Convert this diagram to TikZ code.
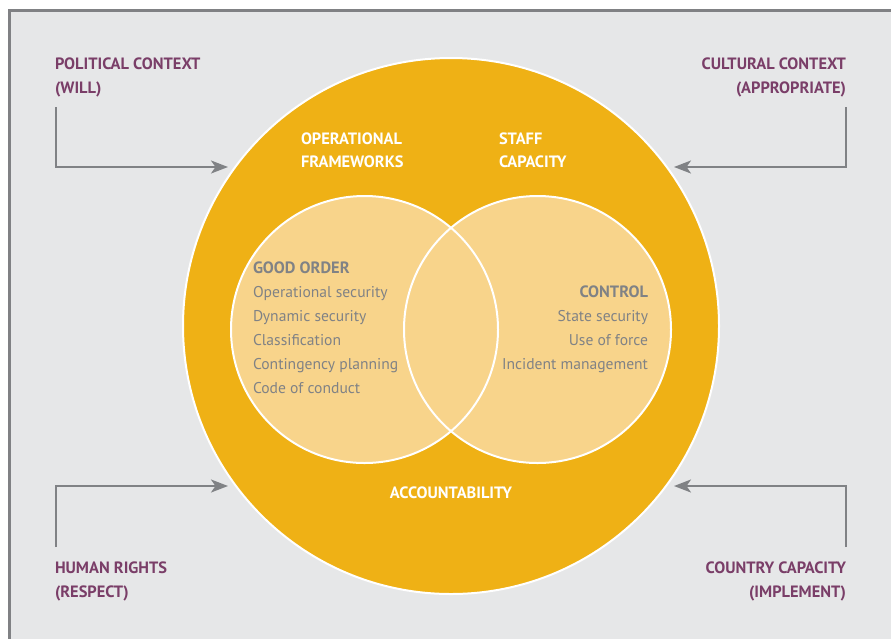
\documentclass[tikz,border=0pt]{standalone}
\usepackage{fontspec}
\setmainfont{PT Sans}
\usetikzlibrary{arrows.meta}
\definecolor{panel}{HTML}{E6E7E8}
\definecolor{frame}{HTML}{808184}
\definecolor{ochre}{HTML}{EFB115}
\definecolor{sand}{HTML}{F8D48B}
\definecolor{plum}{HTML}{7A3E68}
\definecolor{slate}{HTML}{808285}
\begin{document}
\begin{tikzpicture}[x=1pt,y=-1pt,
  every node/.style={inner sep=0pt, outer sep=0pt},
  capsfont/.style={font=\fontsize{16.4}{18}\selectfont\bfseries},
  context/.style={capsfont, text=plum},
  ringlabel/.style={capsfont, text=white},
  headtext/.style={capsfont, text=slate},
  itemtext/.style={text=slate, font=\fontsize{15.6}{18}\selectfont},
  flow/.style={draw=slate, line width=2.3pt,
    -{Stealth[length=17pt, width=13pt, inset=4.5pt]}},
  disc/.style={circle, fill=#1},
]
\useasboundingbox (0,0) rectangle (891,638);
\clip (0,0) rectangle (891,638);
\fill[white] (0,0) rectangle (891,638);
\filldraw[fill=panel, draw=frame, line width=3pt] (9,10) rectangle (905,655);

% outer ring and the two overlapping discs
\node[disc=ochre, minimum size=536pt, draw=white, line width=2pt] (ring) at (451,326) {};
\node[disc=sand, minimum size=267pt] (good) at (364.5,329.5) {};
\node[disc=sand, minimum size=267pt] (ctrl) at (537.5,329.5) {};
\draw[white, line width=2pt] (good.center) circle[radius=133.5pt];
\draw[white, line width=2pt] (ctrl.center) circle[radius=133.5pt];

% labels inside the ring
\node[ringlabel, anchor=base west] (opf1) at (301,144) {OPERATIONAL};
\node[ringlabel, anchor=base west] (opf2) at (301,167) {FRAMEWORKS};
\node[ringlabel, anchor=base west] (stf1) at (499,144) {STAFF};
\node[ringlabel, anchor=base west] (stf2) at (499,167) {CAPACITY};
\node[ringlabel, anchor=base] (acc) at (451,498) {ACCOUNTABILITY};

% good order
\node[headtext, anchor=base west] (go0) at (253,273) {GOOD ORDER};
\node[itemtext, anchor=base west] (go1) at (253,297) {Operational security};
\node[itemtext, anchor=base west] (go2) at (253,321) {Dynamic security};
\node[itemtext, anchor=base west] (go3) at (253,345) {Classification};
\node[itemtext, anchor=base west] (go4) at (253,369) {Contingency planning};
\node[itemtext, anchor=base west] (go5) at (253,393) {Code of conduct};

% control
\node[headtext, anchor=base east] (ct0) at (648,297) {CONTROL};
\node[itemtext, anchor=base east] (ct1) at (648,321) {State security};
\node[itemtext, anchor=base east] (ct2) at (648,345) {Use of force};
\node[itemtext, anchor=base east] (ct3) at (648,369) {Incident management};

% context labels in the corners
\node[context, anchor=base west] (pol1) at (55,69) {POLITICAL CONTEXT};
\node[context, anchor=base west] (pol2) at (55,93) {(WILL)};
\node[context, anchor=base east] (cul1) at (846,69) {CULTURAL CONTEXT};
\node[context, anchor=base east] (cul2) at (846,93) {(APPROPRIATE)};
\node[context, anchor=base west] (hr1) at (55,573) {HUMAN RIGHTS};
\node[context, anchor=base west] (hr2) at (55,597) {(RESPECT)};
\node[context, anchor=base east] (cc1) at (846,573) {COUNTRY CAPACITY};
\node[context, anchor=base east] (cc2) at (846,597) {(IMPLEMENT)};

% arrows feeding the ring
\coordinate (polfrom) at (56,107);
\coordinate (polto) at (228,167);
\coordinate (culfrom) at (846,107);
\coordinate (culto) at (674,167);
\coordinate (hrfrom) at (56,547);
\coordinate (hrto) at (228,486);
\coordinate (ccfrom) at (846,547);
\coordinate (ccto) at (674,486);
\draw[flow] (polfrom) |- (polto);
\draw[flow] (culfrom) |- (culto);
\draw[flow] (hrfrom) |- (hrto);
\draw[flow] (ccfrom) |- (ccto);
\end{tikzpicture}
\end{document}
